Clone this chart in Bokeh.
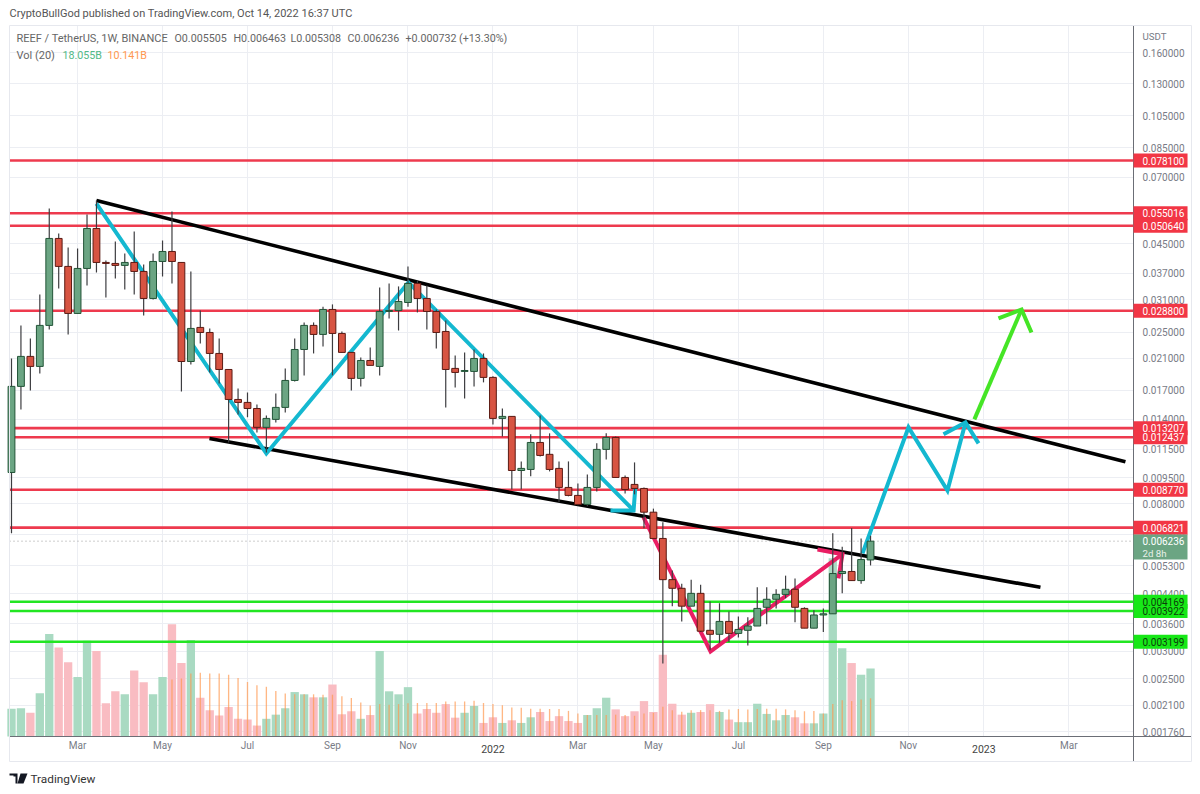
from bokeh.plotting import figure
from bokeh.embed import file_html
from bokeh.resources import INLINE
from bokeh.models import (FixedTicker, PrintfTickFormatter, Label, Range1d, LinearScale,
                          PolyAnnotation, ColumnDataSource)

# ---------- chart data ----------
opens = [.00984,.01743,.02127,.01990,.02613,.04655,.03866,.02829,.03814,.04974,.03969,.03943,.03892,.03969,.03739,.03125,.03995,.04269,.03969,.02056,
         .02578,.02493,.02169,.01950,.01598,.01567,.01505,.01328,.01400,.01516,.01813,.02227,.02613,.02461,.02905,.02477,.02184,.01838,.02070,.01990,
         .02866,.02885,.03042,.03453,.03125,.02866,.02510,.01964,.01925,.01925,.02098,.01850,.01409,.01428,.00997,.01004,.01201,.01110,.01011,.00891,
         .00845,.00796,.00891,.01147,.01242,.00952,.00909,.00885,.00756,.00635,.00483,.00456,.00405,.00441,.00345,.00336,.00366,.00338,.00345,.00355,
         .00402,.00424,.00438,.00453,.00399,.00350,.00382,.00385,.00503,.00510,.00480,.005505]
closes = [.01743,.02127,.01990,.02613,.04655,.03866,.02829,.03814,.04974,.03969,.03943,.03892,.03969,.03739,.03125,.03995,.04269,.03995,.02056,.02561,
          .02493,.02169,.01950,.01598,.01567,.01505,.01328,.01409,.01516,.01813,.02227,.02613,.02461,.02905,.02477,.02184,.01838,.02070,.02004,.02866,
          .02885,.03063,.03453,.03125,.02866,.02493,.01950,.01912,.01937,.02098,.01850,.01409,.01428,.00997,.01011,.01201,.01102,.01004,.00891,.00845,
          .00796,.00891,.01147,.01242,.00952,.00879,.00885,.00756,.00635,.00483,.00456,.00405,.00441,.00343,.00336,.00366,.00338,.00347,.00355,.00399,
          .00424,.00438,.00453,.00402,.00350,.00382,.00385,.00503,.00510,.00480,.00552,.006236]
highs = [.02098,.02613,.02396,.03210,.05681,.04812,.04386,.04356,.05460,.05989,.04021,.04562,.04214,.04876,.03917,.04214,.04592,.05568,.03969,.03739,
         .02885,.02561,.02396,.01950,.01719,.01674,.01546,.01437,.01663,.01964,.02396,.02665,.02665,.02959,.03004,.02510,.02184,.02113,.02258,.03363,
         .03453,.03385,.03866,.03521,.03408,.02905,.02700,.02141,.02184,.02227,.02169,.01863,.01505,.01428,.01059,.01268,.01437,.01276,.01059,.01059,
         .00915,.00971,.01194,.01276,.01250,.00965,.01052,.00891,.00774,.00707,.00513,.00470,.00483,.00467,.00418,.00413,.00391,.00378,.00376,.00459,
         .00459,.00453,.00496,.00487,.00402,.00394,.00399,.00657,.00601,.00681,.00635,.006463]
lows = [.00657,.01495,.01696,.01899,.02543,.03340,.02461,.02829,.03408,.03715,.03147,.03569,.03318,.03210,.02792,.03104,.03618,.03453,.01685,.02017,
        .02318,.01912,.01778,.01201,.01447,.01419,.01284,.01124,.01372,.01466,.01801,.01875,.02169,.02273,.01875,.02184,.01696,.01743,.02004,.01875,
        .02737,.02526,.02959,.02848,.02543,.02242,.01516,.01731,.01609,.01743,.01790,.01354,.01250,.00879,.00879,.00959,.01095,.00991,.00807,.00840,
        .00791,.00786,.00867,.01073,.00952,.00856,.00851,.00679,.00635,.00277,.00405,.00366,.00405,.00341,.00302,.00317,.00319,.00329,.00312,.00355,
        .00359,.00399,.00427,.00364,.00350,.00350,.00341,.00385,.00441,.00480,.00470,.005308]
volumes = [7.35,7.52,6.28,11.5,27.2,23.6,19.7,15.8,25.4,22.7,8.85,12.0,11.2,17.5,14.4,11.2,15.8,29.8,19.5,25.6,
           10.3,7.0,5.6,7.8,4.7,4.5,2.9,4.7,5.8,7.5,11.8,11.2,10.4,10.4,13.8,5.9,6.7,4.7,5.7,22.7,
           12.0,11.2,13.1,6.1,7.3,6.3,8.6,5.0,6.3,8.1,3.6,5.1,3.6,4.3,3.6,5.1,6.5,4.1,5.4,4.1,
           3.6,5.7,7.5,10.3,7.2,5.4,6.7,9.4,6.5,21.7,8.7,5.8,6.3,6.5,8.6,6.5,4.5,3.8,3.8,8.7,
           6.0,4.3,5.7,5.1,3.5,3.5,6.1,47.3,23.4,19.5,16.4,18.055]
vol_ma = [None]*17 + [15.1,15.4,16.7,16.9,16.7,16.7,16.4,15.5,14.5,13.6,13.2,12.1,11.4,11.2,11.2,11.2,11.1,11.1,10.7,10.2,
          9.0,8.2,8.6,8.4,8.6,8.8,8.9,8.9,8.9,9.3,9.3,9.3,9.5,8.9,8.6,8.3,7.7,7.6,7.4,7.4,
          7.3,7.3,6.8,6.1,5.7,5.7,5.7,5.8,5.7,5.5,6.1,6.3,7.9,7.0,6.6,7.0,7.0,7.0,6.8,7.2,
          7.3,7.2,7.3,7.4,7.4,7.2,7.0,6.7,6.8,6.1,8.6,9.6,9.4,9.8,10.141]

price_ticks = [.16,.13,.105,.085,.07,.055,.045,.037,.031,.025,.021,.017,.014,.0115,.0095,.008,.0065,.0053,.0044,.0036,.003,.0025,.0021,.00176]
time_ticks = [7,16,25,34,42,51,60,68,77,86,95,103,112]
time_labels = ["Mar","May","Jul","Sep","Nov","","Mar","May","Jul","Sep","Nov","","Mar"]
year_ticks = [51,103]
year_labels = ["2022","2023"]

red_levels = [.0781,.055016,.05064,.0288,.013207,.012437,.00877,.006821]
green_levels = [.004169,.003922,.003199]
last_price = .006236

channel_upper_x, channel_upper_y = [9.0,118.0], [.05989,.01056]
channel_lower_x, channel_lower_y = [20.97,109.0], [.01233,.00459]
zigzag_x, zigzag_y = [9.0,27.0,42.05,65.9], [.0587,.01116,.03476,.00765]
zigzag_head_x, zigzag_head_y = [63.45,65.9,66.1], [.00765,.00765,.00903]
pink_x, pink_y = [66.95,74.05,88.03], [.00730,.00300,.00572]
pink_head_x, pink_head_y = [85.38,88.03,87.6], [.00590,.00572,.00487]
forecast_x, forecast_y = [90.15,95.02,99.15,101.06], [.00575,.01328,.00873,.01372]
forecast_head_x, forecast_head_y = [98.73,101.06,102.44], [.01268,.01372,.01194]
target_x, target_y = [102.0,107.0], [.01400,.02905]
target_head_x, target_head_y = [104.55,107.0,108.05], [.02737,.02905,.02493]

# extents of the chart panel inside the drawing area
X_MIN, X_MAX, X_SCALE_END, X_TAG = -0.21, 118.86, 124.98, 121.72
P_TOP, P_BASE, P_PANEL_BOTTOM = .1914, .001705, .001443

# ---------- style ----------
HEAD = "Roboto"
GREY = "#787b86"
GRID = "#eceef3"
P_GREEN, P_RED = "#6ba583", "#d75442"
B_GREEN, B_RED = "#225437", "#5b1a13"
V_GREEN, V_RED = "#a9dac2", "#f9bcc2"
TAG_RED, TAG_GREEN = "#f23645", "#17e817"
LINE_RED, LINE_GREEN = "#ee3a4e", "#22e622"
CYAN, PINK, LIME = "#14b8d0", "#e91e63", "#45e526"

p = figure(width=1192, height=786, output_backend="svg", toolbar_location=None,
           y_axis_type="log", y_axis_location="right",
           x_range=Range1d(-1.165, 125.106), y_range=Range1d(.001223, .22599),
           min_border_left=0, min_border_right=0, min_border_top=0, min_border_bottom=0,
           background_fill_color="white", border_fill_color="white", outline_line_color=None)

p.extra_y_ranges = {"vol": Range1d(-13.275, 195.4)}
p.extra_y_scales = {"vol": LinearScale()}

# axes and grids
p.yaxis.fixed_location = X_MAX
p.yaxis.bounds = (P_PANEL_BOTTOM, P_TOP)
p.yaxis.ticker = FixedTicker(ticks=price_ticks)
p.yaxis.formatter = PrintfTickFormatter(format="%.6f")
p.yaxis.major_tick_line_color = None
p.yaxis.minor_tick_line_color = None
p.yaxis.axis_line_color = "#6b6e76"
p.yaxis.major_label_text_color = GREY
p.yaxis.major_label_text_font = HEAD
p.yaxis.major_label_text_font_size = "10px"
p.yaxis.major_label_standoff = 3

p.xaxis.fixed_location = P_BASE
p.xaxis.bounds = (X_MIN, X_SCALE_END)
p.xaxis.ticker = FixedTicker(ticks=time_ticks)
p.xaxis.major_label_overrides = dict(zip(time_ticks, time_labels))
p.xaxis.major_tick_line_color = None
p.xaxis.minor_tick_line_color = None
p.xaxis.axis_line_color = "#6b6e76"
p.xaxis.major_label_text_color = GREY
p.xaxis.major_label_text_font = HEAD
p.xaxis.major_label_text_font_size = "10px"
p.xaxis.major_label_standoff = -2

p.xgrid.ticker = FixedTicker(ticks=time_ticks)
p.ygrid.ticker = FixedTicker(ticks=price_ticks)
p.xgrid.cross_bounds = (P_BASE, P_TOP)
p.ygrid.cross_bounds = (X_MIN, X_MAX)
p.xgrid.grid_line_color = GRID
p.ygrid.grid_line_color = GRID
p.xgrid.grid_line_width = 1
p.ygrid.grid_line_width = 1

# volume
idx = list(range(len(opens)))
vol_colors = [V_GREEN if c >= o else V_RED for o, c in zip(opens, closes)]
p.vbar(x=idx, top=volumes, bottom=0, width=0.88, fill_color=vol_colors, line_color=None, y_range_name="vol")
ma_idx = [i for i, v in zip(idx, vol_ma) if v is not None]
ma_val = [v for v in vol_ma if v is not None]
p.vbar(x=ma_idx, top=ma_val, bottom=0, width=0.14, fill_color="#ff9850", fill_alpha=0.7, line_color=None, y_range_name="vol")

# horizontal levels
for lv in red_levels:
    p.line([X_MIN, X_MAX], [lv, lv], line_color=LINE_RED, line_width=2.6)
for lv in green_levels:
    p.line([X_MIN, X_MAX], [lv, lv], line_color=LINE_GREEN, line_width=2.6)
p.line([X_MIN, X_MAX], [last_price, last_price], line_color="#9a9a9a", line_width=1, line_dash=[1, 3])

# drawings
p.line(channel_upper_x, channel_upper_y, line_color="black", line_width=3.6)
p.line(channel_lower_x, channel_lower_y, line_color="black", line_width=3.6)
for xs, ys, col in [(zigzag_x, zigzag_y, CYAN), (zigzag_head_x, zigzag_head_y, CYAN),
                    (pink_x, pink_y, PINK), (pink_head_x, pink_head_y, PINK),
                    (forecast_x, forecast_y, CYAN), (forecast_head_x, forecast_head_y, CYAN),
                    (target_x, target_y, LIME), (target_head_x, target_head_y, LIME)]:
    p.line(xs, ys, line_color=col, line_width=4, line_join="miter")

# candles
src = ColumnDataSource(dict(
    x=idx, top=[max(o, c) for o, c in zip(opens, closes)], bottom=[min(o, c) for o, c in zip(opens, closes)],
    high=highs, low=lows,
    fill=[P_GREEN if c >= o else P_RED for o, c in zip(opens, closes)],
    edge=[B_GREEN if c >= o else B_RED for o, c in zip(opens, closes)]))
p.segment(x0="x", x1="x", y0="low", y1="high", line_color="#3d3d40", line_width=1.2, source=src)
p.vbar(x="x", top="top", bottom="bottom", width=0.72, fill_color="fill", line_color="edge", line_width=1, source=src)

# price tags: a box through the data scale, then the text on top
def tag_box(price, bg, h=14):
    p.rect(x=[X_TAG], y=[price], width=54, height=h, width_units="screen", height_units="screen",
           fill_color=bg, line_color=None, level="annotation")

def tag_text(price, text, fg):
    p.add_layout(Label(x=1142, x_units="canvas", y=price, y_units="data", text=text, level="overlay",
                       text_color=fg, text_font=HEAD, text_font_size="10px", text_baseline="middle"))

for lv in red_levels:
    tag_box(lv, TAG_RED)
for lv in green_levels:
    tag_box(lv, TAG_GREEN)
# the last-price tag is taller, it also holds the countdown
p.add_layout(PolyAnnotation(xs=[1133, 1187, 1187, 1133], ys=[534, 534, 559, 559], xs_units="canvas", ys_units="canvas",
                            fill_color=P_GREEN, fill_alpha=1, line_alpha=0, level="annotation"))
for lv in red_levels:
    tag_text(lv, "%.6f" % lv, "white")
for lv in green_levels:
    tag_text(lv, "%.6f" % lv, "#0b3d0b")
tag_text(last_price, "%.6f" % last_price, "white")

def text(x, y, s, color="#555", size="10.7px", font=HEAD):
    p.add_layout(Label(x=x, y=y, x_units="canvas", y_units="canvas", text=s, text_color=color, level="overlay",
                       text_font=font, text_font_size=size, text_baseline="middle"))

text(9, 13, "CryptoBullGod published on TradingView.com, Oct 14, 2022 16:37 UTC", size="11px")
text(16, 38, "REEF / TetherUS, 1W, BINANCE", color="#666", size="11px")
text(174, 38, "O0.005505", color="#666")
text(233, 38, "H0.006463", color="#666")
text(290, 38, "L0.005308", color="#666")
text(347, 38, "C0.006236", color="#666")
text(405, 38, "+0.000732 (+13.30%)", color="#666")
text(16, 55, "Vol (20)", color="#666", size="11px")
text(62, 55, "18.055B", color="#53b987")
text(107, 55, "10.141B", color="#ff9850")
text(1142, 36, "USDT", color=GREY, size="9.7px")
text(1142, 553, "2d 8h", color="#e8f0ea", size="9.7px")
text(30, 778, "TradingView", color="#333", size="11.8px")
for t, s in zip(year_ticks, year_labels):
    p.add_layout(Label(x=t, y=748, x_units="data", y_units="canvas", text=s, text_color="#444", level="overlay",
                       text_font=HEAD, text_font_size="10.5px", text_align="center", text_baseline="middle"))

# panel frame + logo
def poly(xs, ys, fill=None, line=None):
    p.add_layout(PolyAnnotation(xs=xs, ys=ys, xs_units="canvas", ys_units="canvas",
                                fill_color=fill, fill_alpha=1 if fill else 0, line_color=line, line_alpha=1 if line else 0))

poly([9, 1191, 1191, 9], [25, 25, 761, 761], line="#e6e8ee")
poly([9, 17, 17, 15, 15, 13, 13, 9], [773, 773, 783, 783, 776, 776, 775, 775], fill="#131722")
poly([20, 27, 23, 17], [773, 773, 783, 783], fill="#131722")

open("out.html", "w").write(file_html(p, INLINE))
